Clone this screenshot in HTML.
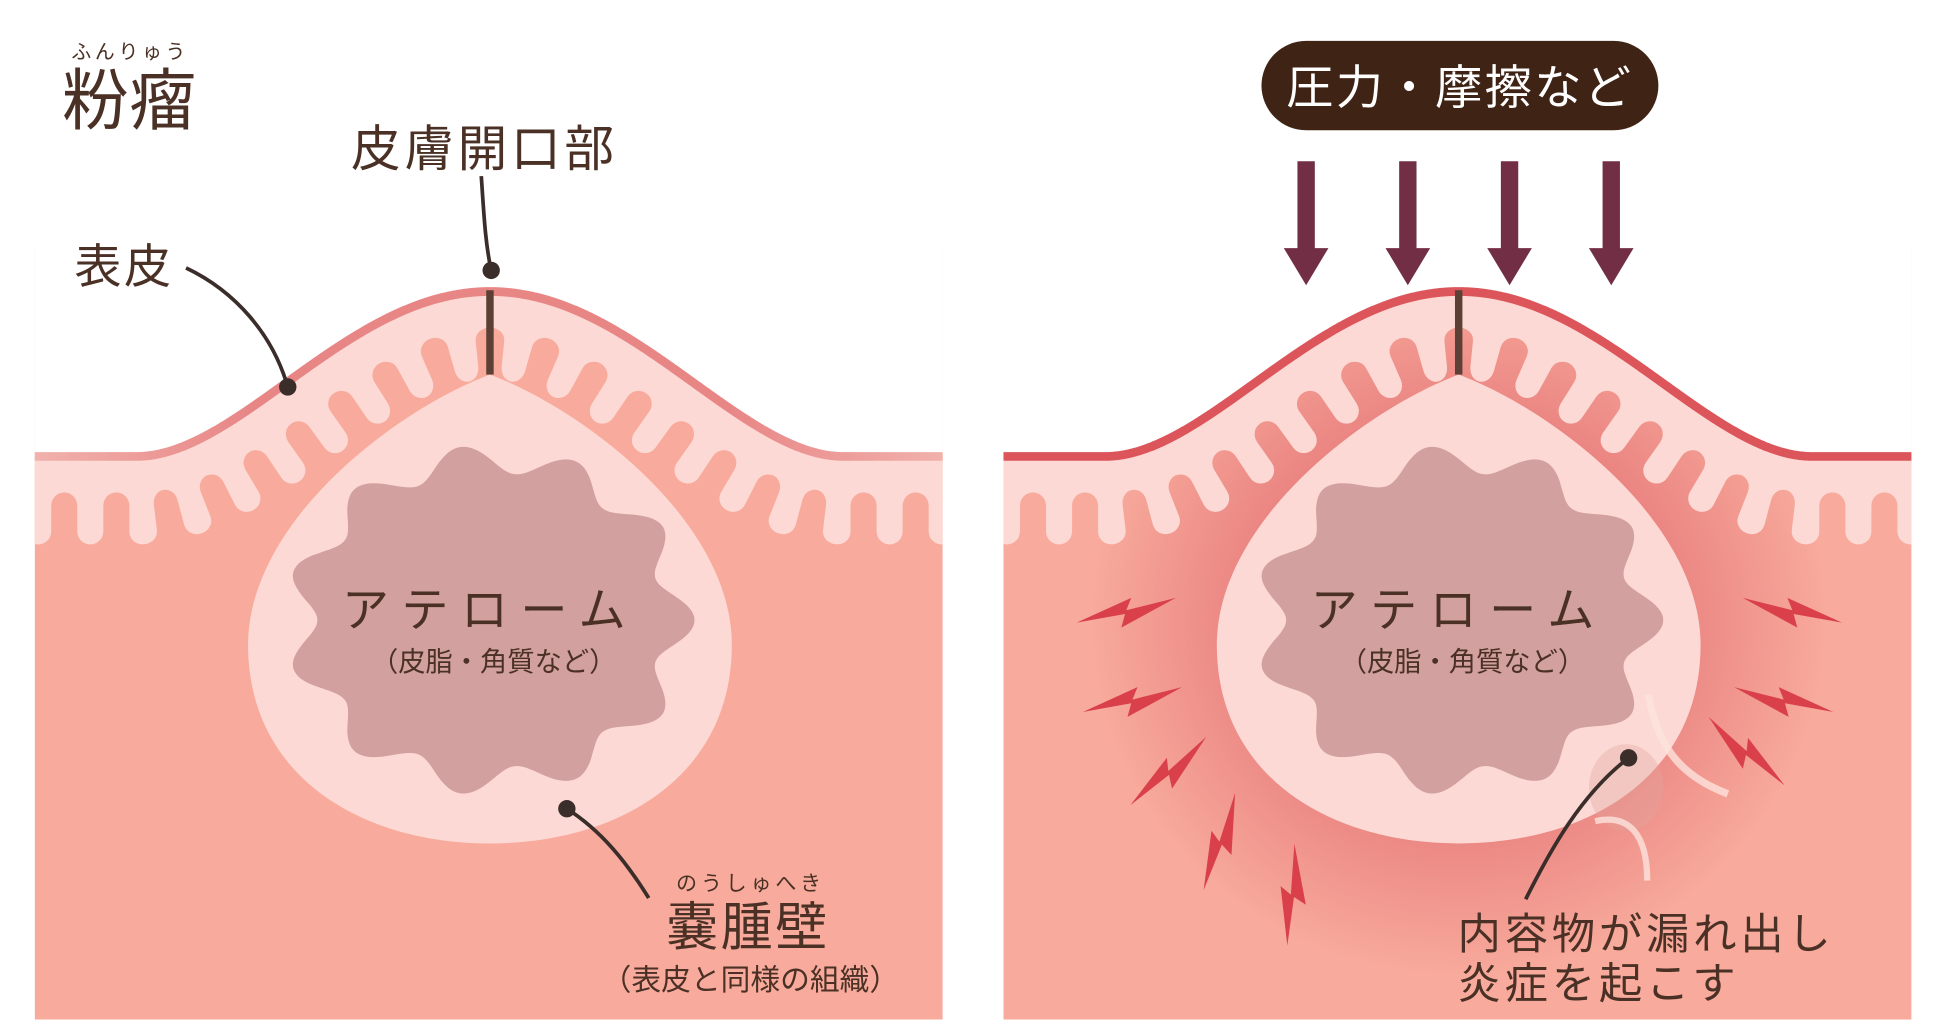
<!DOCTYPE html>
<html><head><meta charset="utf-8">
<style>
html,body{margin:0;padding:0;background:#fff;width:1935px;height:1030px;overflow:hidden}
svg{display:block}
text{font-family:"Liberation Sans","Noto Sans CJK JP",sans-serif;fill:#4a3025}
</style></head><body>
<svg width="1935" height="1030" viewBox="0 0 1560 830.4" preserveAspectRatio="none">
<defs>
<clipPath id="cl"><rect x="28" y="150" width="732" height="672"/></clipPath>
<radialGradient id="glow" cx="0.5" cy="0.5" r="0.5">
<stop offset="0.55" stop-color="#e9807f" stop-opacity="0.95"/>
<stop offset="1" stop-color="#e9807f" stop-opacity="0"/>
</radialGradient>
<linearGradient id="lineL" x1="0" x2="1" y1="0" y2="0">
<stop offset="0" stop-color="#f2b6b0"/><stop offset="0.25" stop-color="#e88686"/><stop offset="0.75" stop-color="#e88686"/><stop offset="1" stop-color="#f2b6b0"/>
</linearGradient>
<g id="bolt"><polygon points="0,24 44,4 40,14 80,4 36,28 39,17" fill="#d9404a"/></g>
</defs>

<g id="L">
<g clip-path="url(#cl)">
<rect x="28" y="200" width="732" height="622" fill="#f8ab9c"/>
<path class="wht" fill="#fff"/>
<path class="band" fill="#fcd9d4"/>
<path class="topl" fill="none" stroke="url(#lineL)" stroke-width="7"/>
</g>
<path d="M395,302 C470,330 590,420 590,520 C590,625 500,680 395,680 C290,680 200,625 200,520 C200,420 320,330 395,302 Z" fill="#fcd9d4"/>
<path class="blob" fill="#d2a09e"/>
<rect x="392" y="234" width="6" height="68" fill="#5c4035"/>
</g>

<g id="R" transform="translate(781,0)">
<g clip-path="url(#cl)">
<rect x="28" y="200" width="732" height="622" fill="#f8ab9c"/>
<ellipse cx="395" cy="500" rx="300" ry="290" fill="url(#glow)"/>
<path class="wht" fill="#fff"/>
<path class="band" fill="#fcd9d4"/>
<path class="topl" fill="none" stroke="#dc555a" stroke-width="7"/>
</g>
<path d="M395,302 C470,330 590,420 590,520 C590,625 500,680 395,680 C290,680 200,625 200,520 C200,420 320,330 395,302 Z" fill="#fcd9d4"/>
<path class="blob" fill="#d2a09e"/>
<ellipse cx="530" cy="635" rx="30" ry="35" fill="#dfa59f" opacity="0.35"/>
<path d="M548,560 C555,600 572,625 612,640" stroke="#fde2dc" stroke-width="6" fill="none" opacity="0.8"/>
<path d="M505,662 C532,656 547,672 547,710" stroke="#fde2dc" stroke-width="5" fill="none" opacity="0.8"/>
<rect x="392" y="234" width="6" height="68" fill="#5c4035"/>
</g>

<g fill="#722e45">
<rect x="1046" y="130" width="14" height="72"/><polygon points="1035,200 1071,200 1053,230"/>
<rect x="1128" y="130" width="14" height="72"/><polygon points="1117,200 1153,200 1135,230"/>
<rect x="1210" y="130" width="14" height="72"/><polygon points="1199,200 1235,200 1217,230"/>
<rect x="1292" y="130" width="14" height="72"/><polygon points="1281,200 1317,200 1299,230"/>
</g>
<rect x="1017" y="33" width="320" height="72" rx="36" fill="#3f2314"/>
<text x="1177" y="84" font-size="38" text-anchor="middle" style="fill:#fff" letter-spacing="2">圧力・摩擦など</text>

<use href="#bolt" transform="translate(868,478)"/>
<use href="#bolt" transform="translate(873,550)"/>
<use href="#bolt" transform="translate(900,628) rotate(-28)"/>
<use href="#bolt" transform="translate(950,705) rotate(-58)"/>
<use href="#bolt" transform="translate(1015,755) rotate(-72)"/>
<use href="#bolt" transform="translate(1485,478) scale(-1,1)"/>
<use href="#bolt" transform="translate(1478,550) scale(-1,1)"/>
<use href="#bolt" transform="translate(1450,612) scale(-1,1) rotate(-28)"/>

<text x="105" y="47" font-size="16" text-anchor="middle" letter-spacing="3">ふんりゅう</text>
<text x="50" y="100" font-size="54">粉瘤</text>
<text x="283" y="134" font-size="40" letter-spacing="3">皮膚開口部</text>
<text x="60" y="228" font-size="38" letter-spacing="2">表皮</text>
<path d="M150,216 C190,235 220,270 232,312" stroke="#3a2d2a" stroke-width="3" fill="none"/>
<circle cx="232" cy="312" r="7" fill="#3a2d2a"/>
<path d="M388,142 C390,170 391,195 396,218" stroke="#3a2d2a" stroke-width="3" fill="none"/>
<circle cx="396" cy="218" r="7" fill="#3a2d2a"/>
<text x="395" y="505" font-size="38" text-anchor="middle" letter-spacing="10">アテローム</text>
<text x="398" y="541" font-size="22" text-anchor="middle">（皮脂・角質など）</text>
<text x="1176" y="505" font-size="38" text-anchor="middle" letter-spacing="10">アテローム</text>
<text x="1179" y="541" font-size="22" text-anchor="middle">（皮脂・角質など）</text>
<path d="M457,652 C485,670 505,695 523,724" stroke="#3a2d2a" stroke-width="3" fill="none"/>
<circle cx="457" cy="652" r="7" fill="#3a2d2a"/>
<text x="605" y="718" font-size="17" text-anchor="middle" letter-spacing="3">のうしゅへき</text>
<text x="603" y="762" font-size="42" text-anchor="middle" letter-spacing="2">嚢腫壁</text>
<text x="605" y="798" font-size="24" text-anchor="middle">（表皮と同様の組織）</text>
<path d="M1313,611 C1275,640 1250,685 1230,725" stroke="#3a2d2a" stroke-width="3" fill="none"/>
<circle cx="1313" cy="611" r="7" fill="#3a2d2a"/>
<text x="1175" y="765" font-size="35" letter-spacing="3">内容物が漏れ出し</text>
<text x="1175" y="805" font-size="35" letter-spacing="3">炎症を起こす</text>
</svg>
<script>
(function(){
var W=285;
function surf(x){var u=(x-395)/W;if(Math.abs(u)>=1)return 368;var g=1-u*u;return 368-133*g*g;}
var pts=[];
for(var x=10;x<=780;x+=0.5){pts.push([x,surf(x)]);}
var topS="",nrm=[];
for(var i=0;i<pts.length;i++){
 var p=pts[i],a=pts[Math.max(0,i-1)],b=pts[Math.min(pts.length-1,i+1)];
 var dx=b[0]-a[0],dy=b[1]-a[1],l=Math.hypot(dx,dy);
 nrm.push([-dy/l,dx/l]);
 topS+=(i?"L":"M")+p[0].toFixed(1)+","+p[1].toFixed(1);
}
var s2=[0];
for(var i=1;i<pts.length;i++){
 var b0x=pts[i-1][0]+nrm[i-1][0]*50,b0y=pts[i-1][1]+nrm[i-1][1]*50;
 var b1x=pts[i][0]+nrm[i][0]*50,b1y=pts[i][1]+nrm[i][1]*50;
 s2.push(s2[i-1]+Math.hypot(b1x-b0x,b1y-b0y));
}
var total=s2[s2.length-1];
var mid=s2[Math.round((395-10)/0.5)];
var j=0;
function map(u,v){
 if(u<=0){j=0;}
 while(j<s2.length-2&&s2[j+1]<u)j++;
 while(j>0&&s2[j]>u)j--;
 var f=(u-s2[j])/((s2[j+1]-s2[j])||1);f=Math.max(0,Math.min(1,f));
 var px=pts[j][0]+(pts[j+1][0]-pts[j][0])*f,py=pts[j][1]+(pts[j+1][1]-pts[j][1])*f;
 var nx=nrm[j][0]+(nrm[j+1][0]-nrm[j][0])*f,ny=nrm[j][1]+(nrm[j+1][1]-nrm[j][1])*f;
 return [px+nx*v,py+ny*v];
}
var P=42,r=10.5,vt=39.5,vb=60.5;
var u0=mid-31.5;while(u0>0)u0-=P;
var wav=[];
var N=12;
for(;u0<total;u0+=P){
 for(var k=0;k<=N;k++){var ph=Math.PI*k/N;wav.push([u0+r-r*Math.cos(ph),vb+r*Math.sin(ph)]);}
 for(var k=0;k<=N;k++){var ph=Math.PI*k/N;wav.push([u0+P/2+r-r*Math.cos(ph),vt-r*Math.sin(ph)]);}
}
var bs=[];
for(var i=0;i<wav.length;i++){
 if(wav[i][0]<0||wav[i][0]>total)continue;
 var q=map(wav[i][0],wav[i][1]);bs.push(q[0].toFixed(1)+","+q[1].toFixed(1));
}
var band=topS+"L"+bs.reverse().join("L")+"Z";
var wht=topS+"L780,0L10,0Z";
var bl="";
for(var k=0;k<=360;k++){var t=k/360*2*Math.PI;var w=1+0.085*Math.cos(11*t);
 var X=395+152*w*Math.cos(t),Y=500+130*w*Math.sin(t);bl+=(k?"L":"M")+X.toFixed(1)+","+Y.toFixed(1);}
bl+="Z";
document.querySelectorAll(".band").forEach(function(e){e.setAttribute("d",band);});
document.querySelectorAll(".topl").forEach(function(e){e.setAttribute("d",topS);});
document.querySelectorAll(".wht").forEach(function(e){e.setAttribute("d",wht);});
document.querySelectorAll(".blob").forEach(function(e){e.setAttribute("d",bl);});
})();
</script>
</body></html>
